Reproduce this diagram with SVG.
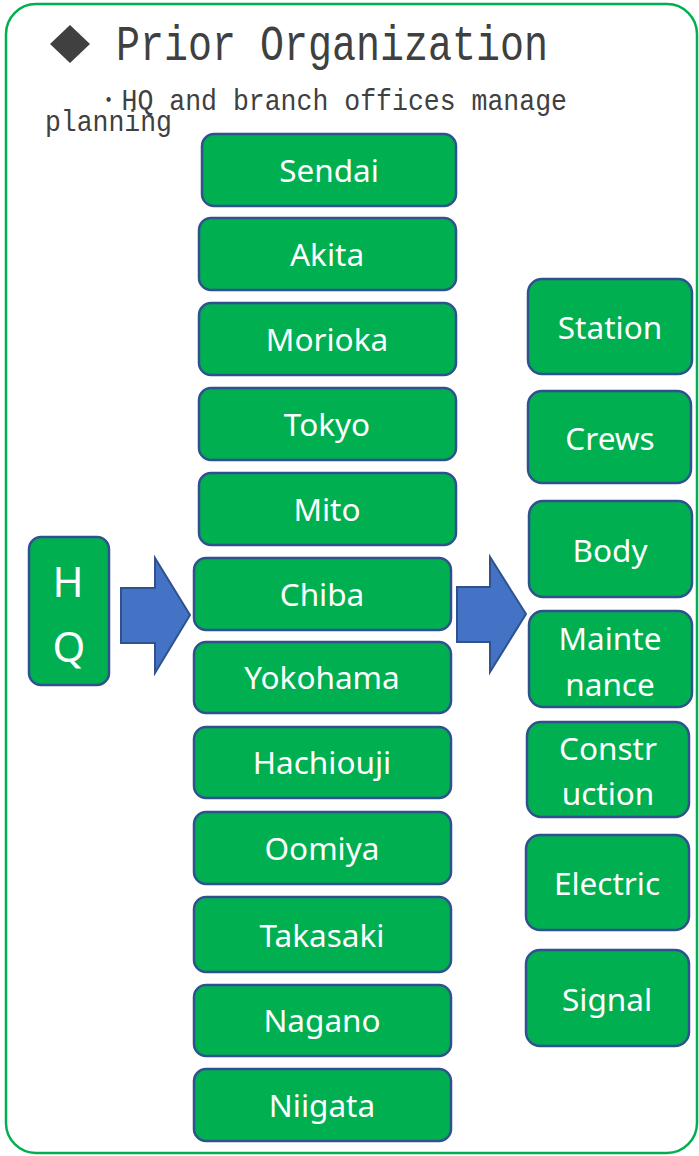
<svg xmlns="http://www.w3.org/2000/svg" width="699" height="1156" viewBox="0 0 699 1156">
<style>
.n{fill:#00B050;stroke:#2F528F;stroke-width:2.5}
.t{fill:#fff;font-family:"Noto Sans","Open Sans",sans-serif;font-size:31.5px;text-anchor:middle}
.big{font-size:42px}
.ar{fill:#4472C4;stroke:#2F528F;stroke-width:2}
.hd{fill:#404040;font-family:"Liberation Mono","DejaVu Sans Mono",monospace}
</style>
<rect x="6" y="4" width="691" height="1149" rx="30" fill="#fff" stroke="#00B050" stroke-width="2.5"/>
<g id="title">
<polygon points="70,25 90,44 70,63 50,44" fill="#404040"/>
<text class="hd" x="116" y="60" font-size="50" textLength="432" lengthAdjust="spacingAndGlyphs">Prior Organization</text>
<text class="hd" x="95" y="110" font-size="30" textLength="472" lengthAdjust="spacingAndGlyphs">・HQ and branch offices manage</text>
<text class="hd" x="45" y="131" font-size="30" textLength="127" lengthAdjust="spacingAndGlyphs">planning</text>
</g>
<g id="connectors">
<polygon class="ar" points="121,588 155,588 155,558 190,615 155,673 155,643 121,643"/>
<polygon class="ar" points="457,587 490,587 490,557 526,614 490,672 490,642 457,642"/>
</g>
<g id="hq"><rect class="n" x="29" y="537" width="80" height="148" rx="12"/><text class="t big" x="68" y="597">H</text><text class="t big" x="69" y="662">Q</text></g>
<g id="sendai"><rect class="n" x="202" y="134" width="254" height="72" rx="12"/><text class="t" x="329" y="182">Sendai</text></g>
<g id="akita"><rect class="n" x="199" y="218" width="257" height="72" rx="12"/><text class="t" x="327" y="266">Akita</text></g>
<g id="morioka"><rect class="n" x="199" y="303" width="257" height="72" rx="12"/><text class="t" x="327" y="351">Morioka</text></g>
<g id="tokyo"><rect class="n" x="199" y="388" width="257" height="72" rx="12"/><text class="t" x="327" y="436">Tokyo</text></g>
<g id="mito"><rect class="n" x="199" y="473" width="257" height="72" rx="12"/><text class="t" x="327" y="521">Mito</text></g>
<g id="chiba"><rect class="n" x="194" y="558" width="257" height="72" rx="12"/><text class="t" x="322" y="606">Chiba</text></g>
<g id="yokohama"><rect class="n" x="194" y="642" width="257" height="71" rx="12"/><text class="t" x="322" y="689">Yokohama</text></g>
<g id="hachiouji"><rect class="n" x="194" y="727" width="257" height="71" rx="12"/><text class="t" x="322" y="774">Hachiouji</text></g>
<g id="oomiya"><rect class="n" x="194" y="812" width="257" height="72" rx="12"/><text class="t" x="322" y="860">Oomiya</text></g>
<g id="takasaki"><rect class="n" x="194" y="897" width="257" height="75" rx="12"/><text class="t" x="322" y="947">Takasaki</text></g>
<g id="nagano"><rect class="n" x="194" y="985" width="257" height="71" rx="12"/><text class="t" x="322" y="1032">Nagano</text></g>
<g id="niigata"><rect class="n" x="194" y="1069" width="257" height="72" rx="12"/><text class="t" x="322" y="1117">Niigata</text></g>
<g id="station"><rect class="n" x="528" y="279" width="164" height="95" rx="14"/><text class="t" x="610" y="339">Station</text></g>
<g id="crews"><rect class="n" x="528" y="391" width="163" height="92" rx="14"/><text class="t" x="610" y="450">Crews</text></g>
<g id="body"><rect class="n" x="529" y="501" width="163" height="96" rx="14"/><text class="t" x="610" y="562">Body</text></g>
<g id="maintenance"><rect class="n" x="529" y="611" width="163" height="96" rx="14"/><text class="t" x="610" y="650">Mainte</text><text class="t" x="610" y="696">nance</text></g>
<g id="construction"><rect class="n" x="527" y="722" width="162" height="95" rx="14"/><text class="t" x="608" y="760">Constr</text><text class="t" x="608" y="805">uction</text></g>
<g id="electric"><rect class="n" x="526" y="835" width="163" height="95" rx="14"/><text class="t" x="607" y="895">Electric</text></g>
<g id="signal"><rect class="n" x="526" y="950" width="163" height="96" rx="14"/><text class="t" x="607" y="1011">Signal</text></g>
</svg>
